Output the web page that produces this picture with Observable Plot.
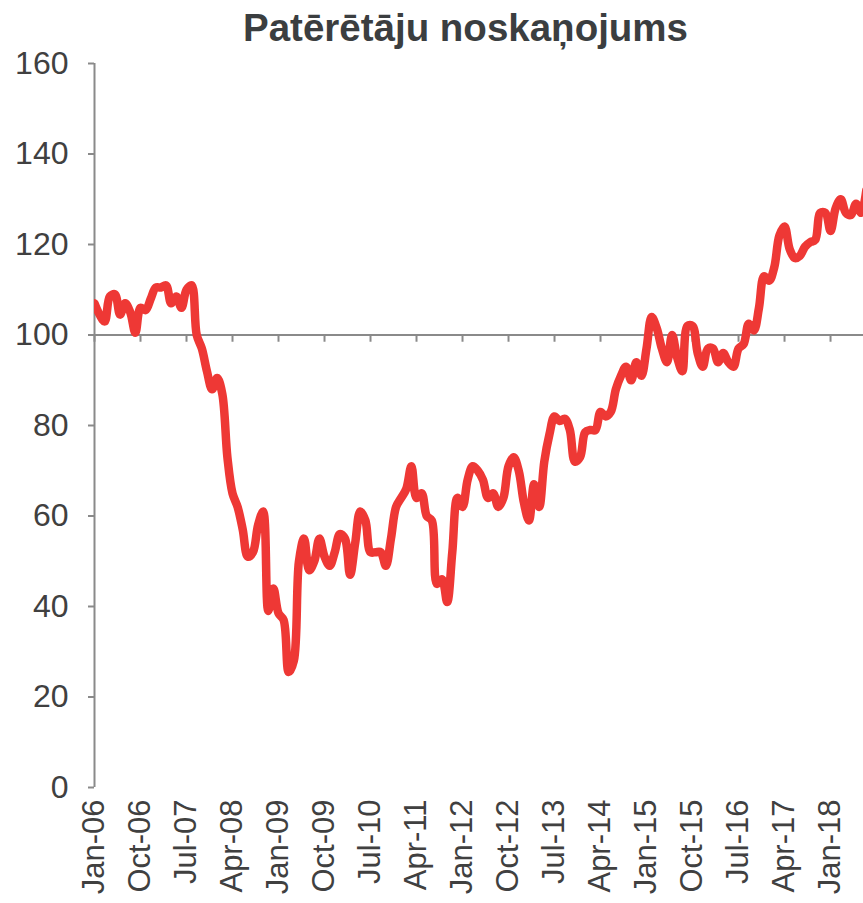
<!DOCTYPE html>
<html><head><meta charset="utf-8">
<script src="https://cdn.jsdelivr.net/npm/d3@7"></script>
<script src="https://cdn.jsdelivr.net/npm/@observablehq/plot@0.6"></script>
<style>
body{margin:0;background:#fff;}
#wrap{position:relative;width:863px;height:903px;overflow:hidden;}
#title{position:absolute;left:0;top:9px;width:863px;padding-left:68px;box-sizing:border-box;text-align:center;font:bold 38.5px/38px "Liberation Sans",Arial,sans-serif;color:#3b3e40;}
</style></head><body>
<div id="wrap"><div id="chart"></div><div id="title">Patērētāju noskaņojums</div></div>
<script>
// Monthly index values, Jan-06 onwards
const values2006 = [107, 104.5, 103, 108.5, 109, 104.5, 107, 105, 100.5, 106, 105.5, 108];
const values2007 = [110.5, 110.5, 111, 107, 108.5, 106, 110, 111, 100, 97, 92, 88];
const values2008 = [90.5, 87, 73, 65, 62, 57, 51, 52, 58, 61, 39, 44];
const values2009 = [38.5, 37, 25.5, 28, 50, 55, 48, 50, 55, 51, 49, 52];
const values2010 = [56, 55, 47, 54, 61, 59, 52, 52, 52, 49, 55, 62];
const values2011 = [64, 66, 71, 64, 65, 60, 59, 45, 46, 41, 52, 64];
const values2012 = [62, 68, 71, 70, 68, 64, 65, 62, 64, 71, 73, 70];
const values2013 = [63, 59, 67, 62, 72, 78, 82, 81, 81.5, 79, 72, 73];
const values2014 = [78.5, 79, 79, 83, 82, 83, 88, 91, 93, 90, 94, 91];
const values2015 = [97, 104, 101.5, 97, 94, 100, 95, 92, 102, 102, 96, 93];
const values2016 = [97, 97, 94, 96, 94, 93, 97, 98, 102.5, 101, 106, 113];
const values2017 = [112, 115, 122, 124, 119, 117, 117.5, 119.5, 120.5, 121, 127, 127];
const values2018 = [123, 128, 130, 127, 126.5, 129, 127, 132];
const values = [].concat(values2006, values2007, values2008, values2009, values2010, values2011,
  values2012, values2013, values2014, values2015, values2016, values2017, values2018);

const tickLabels = ["Jan-06","Oct-06","Jul-07","Apr-08","Jan-09","Oct-09","Jul-10","Apr-11","Jan-12",
  "Oct-12","Jul-13","Apr-14","Jan-15","Oct-15","Jul-16","Apr-17","Jan-18"];
const yTicks = [0, 20, 40, 60, 80, 100, 120, 140, 160];

const tickMonths = tickLabels.map((_, i) => i * 9);
const data = values.map((v, i) => ({i, v}));

const chart = Plot.plot({
  width: 863, height: 903,
  marginLeft: 94, marginRight: 0, marginTop: 63, marginBottom: 116,
  style: {fontFamily: '"Liberation Sans", Arial, sans-serif', background: "white", color: "#404040", overflow: "visible"},
  x: {domain: [0, 150.45]},
  y: {domain: [0, 160]},
  marks: [
    Plot.ruleY([100], {stroke: "#8a8a8a", strokeWidth: 2}),
    Plot.ruleX(tickMonths, {x: d => d, y1: 100, y2: 98.4, stroke: "#8a8a8a", strokeWidth: 2}),
    Plot.ruleX([0], {y1: 0, y2: 160, stroke: "#8a8a8a", strokeWidth: 2}),
    Plot.axisY({ticks: yTicks, tickSize: 6, tickPadding: 20, fontSize: 32, stroke: "#8a8a8a", strokeWidth: 2, fill: "#404040", label: null}),
    Plot.axisX({ticks: tickMonths, tickFormat: d => tickLabels[Math.round(d / 9)], tickRotate: -90, tickSize: 0, tickPadding: 12, fontSize: 31, fill: "#404040", label: null}),
    Plot.line(data, {x: "i", y: "v", stroke: "#ee3835", strokeWidth: 8.5, curve: "catmull-rom", clip: true})
  ]
});
document.getElementById("chart").appendChild(chart);
</script>
</body></html>
